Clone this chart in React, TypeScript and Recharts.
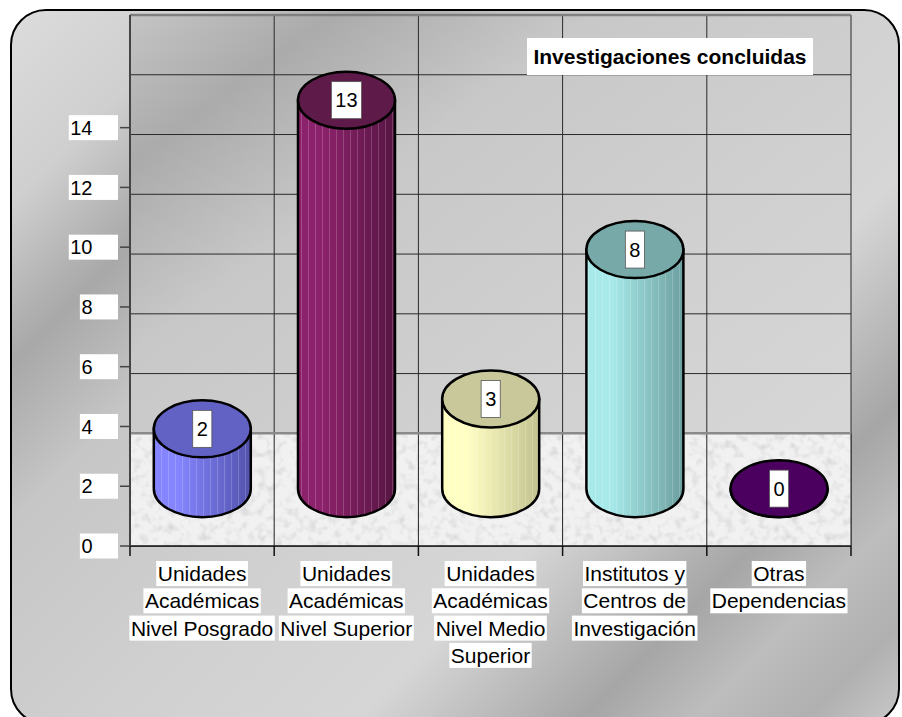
import React from "react";
import { Bar, BarChart, CartesianGrid, ReferenceArea, ReferenceLine, XAxis, YAxis } from "recharts";

// categories (line breaks as in the original labels)
const categories = [
  "Unidades\nAcadémicas\nNivel Posgrado",
  "Unidades\nAcadémicas\nNivel Superior",
  "Unidades\nAcadémicas\nNivel Medio\nSuperior",
  "Institutos y\nCentros de\nInvestigación",
  "Otras\nDependencias",
];
const values = [2, 13, 3, 8, 0];
const yTicks = [0, 2, 4, 6, 8, 10, 12, 14];
const title = "Investigaciones concluidas";

const palette = [
  { top: "#6262c4", light: "#8585ff", dark: "#5252ac" },
  { top: "#5e1a48", light: "#8c226b", dark: "#561542" },
  { top: "#c8c89a", light: "#ffffc4", dark: "#c2c290" },
  { top: "#78a9a9", light: "#a8eaea", dark: "#6d9f9f" },
  { top: "#4b0060", light: "#4b0060", dark: "#4b0060" },
];

const data = categories.map((name, i) => ({ name, value: values[i] }));

// layout
const W = 902;
const H = 717;
const PLOT_LEFT = 130;
const PLOT_RIGHT = 851;
const PLOT_TOP = 15;
const PLOT_BOTTOM = 546;
const X_AXIS_H = 130;
const TICK = 10;
const BAND = (PLOT_RIGHT - PLOT_LEFT) / categories.length;

// 3D look: the back wall sits DEPTH units above the front axis, cylinders stand half way
const FRONT_MAX = 17.77;
const DEPTH = 3.77;
const BASE = 1.92;

const FONT = "'Liberation Sans', Arial, Helvetica, sans-serif";

const ctx = typeof document !== "undefined" ? document.createElement("canvas").getContext("2d") : null;
function textWidth(s: string, font: string) {
  if (!ctx) return s.length * 10;
  ctx.font = font;
  return ctx.measureText(s).width;
}

function YTick(props: any) {
  const { x, y, payload } = props;
  const label = String(payload.value);
  const tw = textWidth(label, `20px ${FONT}`);
  const bw = tw + 27;
  return (
    <g>
      <rect x={x - bw} y={y - 12.5} width={bw} height={25} fill="#fff" />
      <text x={x - bw + 1.5} y={y} dy="0.36em" fontSize={20} fontFamily={FONT} fill="#000">
        {label}
      </text>
    </g>
  );
}

function XTick(props: any) {
  const { x, y, payload, index } = props;
  const lines = String(payload.value).split("\n");
  const axisY = y - TICK;
  return (
    <g>
      <line x1={x - BAND / 2} x2={x - BAND / 2} y1={axisY} y2={y} stroke="#111" strokeWidth={1.5} />
      {index === categories.length - 1 && (
        <line x1={x + BAND / 2} x2={x + BAND / 2} y1={axisY} y2={y} stroke="#111" strokeWidth={1.5} />
      )}
      {lines.map((ln, i) => {
        const w = textWidth(ln, `21px ${FONT}`);
        const top = y + 5 + i * 27.3;
        return (
          <g key={i}>
            <rect x={x - w / 2 - 1.5} y={top} width={w + 3} height={25} fill="#fff" />
            <text x={x} y={top + 12.5} dy="0.36em" textAnchor="middle" fontSize={21} fontFamily={FONT} fill="#000">
              {ln}
            </text>
          </g>
        );
      })}
    </g>
  );
}

function Floor(props: any) {
  const { x, y, width, height } = props;
  const n = categories.length;
  return (
    <g>
      <rect x={x} y={y} width={width} height={height} fill="#f1f1f1" />
      <rect x={x} y={y} width={width} height={height} fill="#fff" filter="url(#floorNoise)" />
      {Array.from({ length: n + 1 }, (_, i) => (
        <line key={i} x1={x + (i * width) / n} x2={x + (i * width) / n} y1={y} y2={y + height} stroke="#222" strokeWidth={1} />
      ))}
      <line x1={x} x2={x + width} y1={y} y2={y} stroke="#8a8a8a" strokeWidth={2.5} />
    </g>
  );
}

function Cylinder(props: any) {
  const { x, y, width, height, index, payload } = props;
  if (x == null || y == null) return null;
  const rx = width / 2;
  const ry = 28.5;
  const cx = x + rx;
  const yb = y + (height || 0);
  const c = palette[index];
  const side = `M${x},${y} L${x},${yb} A${rx},${ry} 0 0 0 ${x + width},${yb} L${x + width},${y} Z`;
  const label = String(payload.value);
  const bw = textWidth(label, `20px ${FONT}`) + 8;
  return (
    <g>
      <path d={side} fill={`url(#side${index})`} />
      {payload.value > 0 && <path d={side} fill="url(#stripes)" />}
      <path d={side} fill="none" stroke="#000" strokeWidth={2.5} />
      <ellipse cx={cx} cy={y} rx={rx} ry={ry} fill={c.top} stroke="#000" strokeWidth={2.5} />
      <rect x={cx - bw / 2} y={y - 18.5} width={bw} height={37} fill="#fff" stroke="#555" strokeWidth={0.8} />
      <text x={cx} y={y} dy="0.36em" textAnchor="middle" fontSize={20} fontFamily={FONT} fill="#000">
        {label}
      </text>
    </g>
  );
}

export default function App() {
  const backTicks = yTicks;
  return (
    <div style={{ position: "absolute", left: 0, top: 0, width: W, height: H, overflow: "hidden" }}>
      <svg width={0} height={0} style={{ position: "absolute" }}>
        <defs>
          <linearGradient id="wallGrad" x1="0" y1="0" x2="1" y2="1">
            <stop offset="0%" stopColor="#c4c4c4" />
            <stop offset="14%" stopColor="#ababab" />
            <stop offset="32%" stopColor="#c8c8c8" />
            <stop offset="60%" stopColor="#d0d0d0" />
            <stop offset="100%" stopColor="#d9d9d9" />
          </linearGradient>
          {palette.map((c, i) => (
            <linearGradient key={i} id={`side${i}`} x1="0" y1="0" x2="1" y2="0">
              <stop offset="0%" stopColor={c.light} />
              <stop offset="25%" stopColor={c.light} />
              <stop offset="100%" stopColor={c.dark} />
            </linearGradient>
          ))}
          <pattern id="stripes" patternUnits="userSpaceOnUse" width={7} height={10}>
            <rect x={0} y={0} width={1} height={10} fill="#fff" fillOpacity={0.18} />
          </pattern>
          <filter id="floorNoise" x="0" y="0" width="100%" height="100%">
            <feTurbulence type="fractalNoise" baseFrequency="0.12" numOctaves={2} seed={7} />
            <feColorMatrix
              type="matrix"
              values="0 0 0 0 0.6  0 0 0 0 0.6  0 0 0 0 0.6  1.6 0 0 0 -0.75"
            />
          </filter>
        </defs>
      </svg>

      <div
        style={{
          position: "absolute",
          left: 10,
          top: 9,
          width: 886,
          height: 712,
          border: "2px solid #000",
          borderRadius: 36,
          background:
            "linear-gradient(135deg, #dcdcdc 0%, #cfcfcf 12%, #a8a8a8 22%, #c6c6c6 32%, #d0d0d0 50%, #d6d6d6 66%, #a6a6a6 80%, #bdbdbd 87%, #b0b0b0 94%, #c8c8c8 100%)",
        }}
      />

      <div style={{ position: "absolute", left: 0, top: 0 }}>
        <BarChart
          width={W}
          height={H}
          data={data}
          barCategoryGap="16.5%"
          margin={{ top: PLOT_TOP, right: W - PLOT_RIGHT, left: 0, bottom: H - PLOT_BOTTOM - X_AXIS_H }}
        >
          <CartesianGrid
            yAxisId="back"
            stroke="#2a2a2a"
            strokeWidth={1}
            fill="url(#wallGrad)"
            fillOpacity={1}
            verticalCoordinatesGenerator={({ offset }: any) =>
              Array.from({ length: categories.length + 1 }, (_, i) => offset.left + (i * offset.width) / categories.length)
            }
          />
          <XAxis
            dataKey="name"
            interval={0}
            height={X_AXIS_H}
            tickLine={false}
            tickSize={TICK}
            tickMargin={0}
            axisLine={{ stroke: "#111", strokeWidth: 1.5 }}
            tick={<XTick />}
          />
          <YAxis
            yAxisId="front"
            width={PLOT_LEFT}
            domain={[0, FRONT_MAX]}
            allowDataOverflow
            ticks={yTicks}
            interval={0}
            tickSize={TICK}
            tickMargin={2}
            axisLine={{ stroke: "#444", strokeWidth: 2 }}
            tickLine={{ stroke: "#444", strokeWidth: 1.5 }}
            tick={<YTick />}
          />
          <YAxis
            yAxisId="back"
            hide
            width={0}
            orientation="right"
            domain={[-DEPTH, FRONT_MAX - DEPTH]}
            allowDataOverflow
            ticks={backTicks}
          />
          <YAxis yAxisId="cyl" hide width={0} orientation="right" domain={[-BASE, FRONT_MAX - BASE]} allowDataOverflow />
          <ReferenceLine yAxisId="back" y={FRONT_MAX - DEPTH} stroke="#808080" strokeWidth={2.5} />
          <ReferenceArea yAxisId="back" y1={-DEPTH} y2={0} shape={<Floor />} />
          <Bar dataKey="value" yAxisId="cyl" shape={<Cylinder />} isAnimationActive={false} />
        </BarChart>
      </div>

      <div
        style={{
          position: "absolute",
          left: 527,
          top: 38,
          width: 286,
          height: 37,
          background: "#fff",
          fontFamily: FONT,
          fontWeight: "bold",
          fontSize: 21,
          lineHeight: "37px",
          textAlign: "center",
          color: "#000",
        }}
      >
        {title}
      </div>
    </div>
  );
}
